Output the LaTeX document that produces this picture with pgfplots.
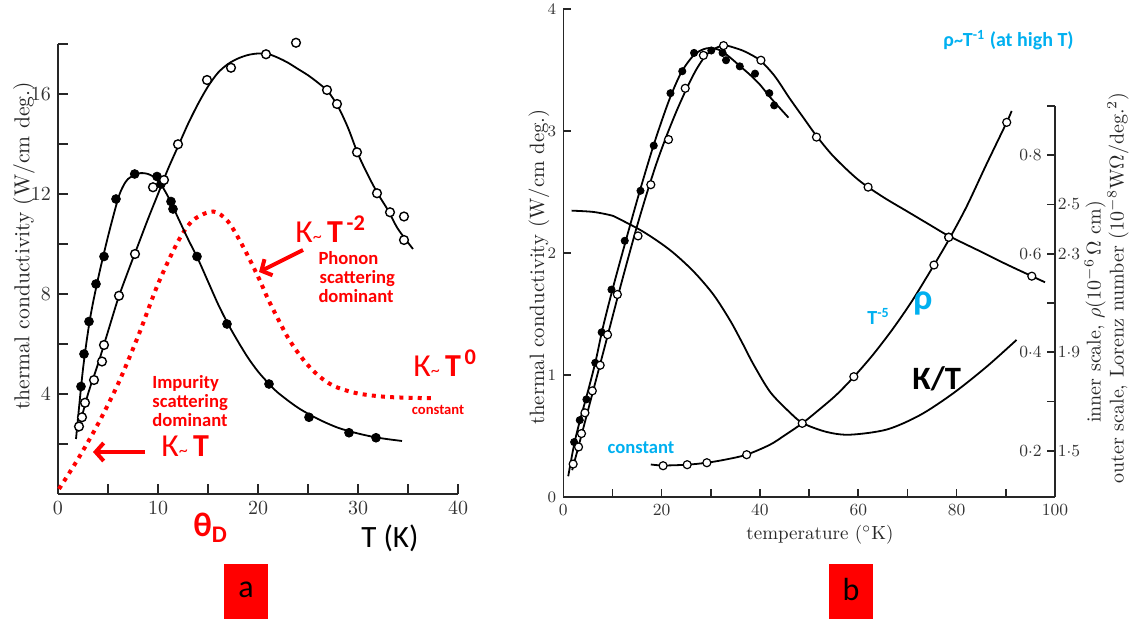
\documentclass[border=0pt]{standalone}
\usepackage{fontspec}
\usepackage{pgfplots}
\pgfplotsset{compat=1.18}
\usetikzlibrary{arrows.meta}
\newfontfamily\cb{Carlito}
\definecolor{ared}{RGB}{255,0,0}
\definecolor{ablue}{RGB}{0,176,240}
\newcommand{\fs}[1]{\fontsize{#1}{#1}\selectfont}
\newcommand{\tld}{{\fs{9}\textasciitilde}}
\begin{document}
\begin{tikzpicture}
\path[use as bounding box] (0,0) rectangle (565pt,-309.5pt);
% ---------------- panel a ----------------
\begin{axis}[
  at={(29pt,-247pt)}, anchor=south west, scale only axis,
  width=200pt, height=225pt,
  xmin=0, xmax=40, ymin=0, ymax=18,
  axis x line*=bottom, axis y line*=left,
  axis line style={line width=0.8pt, black!85, -},
  xtick={0,5,...,40}, xticklabels={0,,10,,20,,30,,40},
  ytick={2,4,...,18}, yticklabels={,4,,8,,12,,16,},
  tick align=inside, major tick length=5pt,
  tick style={line width=0.8pt, black!85},
  ticklabel style={font=\fs{10}, black!80},
  clip=false,
]
\addplot[ared, line width=2pt, dash pattern=on 2pt off 2.6pt, smooth] coordinates {
(0.1,0.2)(2,1.4)(4,2.8)(6,4.4)(8,6.3)(10,8.4)(12,10.1)(13.5,10.95)(15.5,11.3)(17,10.9)(18.5,9.9)(20,8.7)(21,7.8)(22,7.0)(23,6.25)(24,5.65)(25,5.15)(26,4.75)(27,4.45)(28,4.25)(30,4.02)(33,3.88)(37.4,3.83)};
\addplot[black, line width=0.9pt, smooth] coordinates {
(1.8,2.2)(2.5,5.0)(3.2,7.0)(4.0,8.6)(5.0,10.3)(6.0,11.8)(6.5,12.3)(7.0,12.6)(8.0,12.82)(9.0,12.8)(10,12.55)(11,11.9)(12,11.05)(13,10.2)(14,9.4)(15,8.5)(16,7.6)(17,6.8)(18,6.1)(19,5.45)(20,4.9)(21,4.45)(22,4.05)(24,3.45)(26,3.0)(28,2.65)(30,2.42)(32,2.25)(34.4,2.12)};
\addplot[black, line width=0.9pt, smooth] coordinates {
(2.0,2.5)(3.0,4.0)(4.0,5.2)(5.0,6.5)(6.0,7.8)(7.0,8.9)(8.0,9.95)(9.0,11.0)(10,12.0)(11,13.0)(12,13.9)(13,14.8)(14,15.6)(15,16.3)(16,16.85)(17,17.2)(18,17.42)(19,17.56)(20,17.62)(21,17.6)(22,17.45)(23,17.25)(24,17.0)(25,16.75)(26,16.45)(27,16.1)(28,15.5)(29,14.65)(30,13.6)(31,12.75)(32,12.0)(33,11.35)(34,10.6)(35.5,9.8)};
\addplot[only marks, mark=*, mark size=2.2pt, black] coordinates {
(7.67,12.8)(5.8,11.8)(4.6,9.5)(3.8,8.4)(3.1,6.9)(2.6,5.6)(2.3,4.3)(9.9,12.7)(10.3,12.4)(11.3,11.7)(11.5,11.4)(13.9,9.5)(16.9,6.8)(21.1,4.4)(25.1,3.07)(29.1,2.45)(31.8,2.25)};
\addplot[only marks, mark=*, mark size=2.2pt, mark options={fill=white, draw=black, line width=0.7pt}] coordinates {
(2.1,2.7)(2.4,3.07)(2.7,3.65)(3.6,4.56)(4.4,5.3)(4.6,5.96)(6.1,7.93)(7.7,9.6)(9.5,12.27)(10.6,12.56)(12.0,13.99)(14.9,16.56)(17.3,17.05)(20.8,17.59)(23.8,18.05)(26.9,16.16)(27.9,15.6)(29.9,13.67)(31.9,12.03)(33.2,11.27)(34.6,11.1)(34.6,10.16)};
\end{axis}
% ---------------- panel b, left scale ----------------
\begin{axis}[
  at={(281.65pt,-248.5pt)}, anchor=south west, scale only axis,
  width=245.8pt, height=244pt,
  xmin=0, xmax=100, ymin=0, ymax=4,
  axis x line*=bottom, axis y line*=left,
  axis line style={line width=0.8pt, black!85, -},
  xtick={0,10,...,100}, xticklabels={0,,20,,40,,60,,80,,100},
  ytick={0,1,2,3,4},
  tick align=inside, major tick length=4pt,
  tick style={line width=0.8pt, black!85},
  ticklabel style={font=\fs{8.5}, black!80},
  clip=false,
]
\addplot[black, line width=0.9pt, smooth] coordinates {
(1.0,0.17)(2.2,0.43)(3.4,0.63)(4.7,0.82)(6.5,1.10)(8,1.38)(10,1.70)(12.5,2.07)(15.5,2.50)(18.5,2.90)(21.5,3.25)(24,3.48)(26.5,3.62)(28.5,3.67)(30,3.68)(32,3.66)(34,3.60)(36,3.53)(38,3.46)(40,3.38)(42,3.28)(44,3.19)(45.8,3.11)};
\addplot[black, line width=0.9pt, smooth] coordinates {
(1.8,0.22)(3,0.40)(4.5,0.63)(6,0.86)(7.5,1.09)(9,1.32)(11,1.63)(13,1.93)(15,2.22)(17,2.49)(19,2.74)(21,2.96)(23,3.16)(25,3.34)(27,3.50)(29,3.62)(31,3.68)(33,3.70)(35,3.68)(37,3.65)(40,3.58)(43,3.45)(46,3.27)(49,3.10)(51.5,2.96)(55,2.79)(60,2.60)(65,2.46)(70,2.34)(75,2.22)(78.4,2.14)(85,2.01)(90,1.91)(95.3,1.81)(98,1.76)};
\addplot[only marks, mark=*, mark size=1.8pt, black] coordinates {
(9.8,1.70)(12.5,2.10)(15.7,2.51)(18.4,2.88)(21.8,3.31)(24.2,3.49)(26.6,3.64)(30.1,3.66)(32.4,3.64)(33.1,3.58)(35.9,3.53)(39.0,3.47)(41.9,3.31)(42.9,3.21)(7.8,1.35)(6.5,1.10)(4.7,0.80)(3.35,0.63)(2.2,0.45)};
\addplot[only marks, mark=*, mark size=2pt, mark options={fill=white, draw=black, line width=0.6pt}] coordinates {
(11.0,1.66)(15.2,2.14)(17.8,2.56)(21.4,2.93)(24.8,3.35)(28.5,3.62)(32.6,3.70)(40.2,3.58)(51.5,2.95)(62.0,2.54)(78.4,2.13)(95.3,1.81)(9.0,1.33)(7.5,1.08)(5.9,0.87)(4.4,0.69)(3.7,0.52)(3.1,0.41)(2.0,0.27)};
\end{axis}
% ---------------- panel b, right scale (rho; Lorenz number) ----------------
\begin{axis}[
  at={(281.65pt,-248.5pt)}, anchor=south west, scale only axis,
  width=245.8pt, height=244pt,
  xmin=0, xmax=100, ymin=0.106, ymax=1.097,
  axis x line=none, axis y line*=right,
  axis line style={draw=none},
  ytick={0.2,0.3,0.4,0.5,0.6,0.7,0.8,0.9},
  yticklabels={1$\cdot$5,,1$\cdot$9,,2$\cdot$3,2$\cdot$5,,},
  tick align=inside, major tick length=4pt,
  tick style={line width=0.8pt, black!85},
  ticklabel style={font=\fs{8.5}, black!80},
  yticklabel style={xshift=-2pt},
  clip=false,
]
\draw[line width=0.8pt, black!85] (axis cs:100,0.106) -- (axis cs:100,0.9);
\node[anchor=east, font=\fs{8.5}, black!80, inner sep=0pt, xshift=-6.5pt] at (axis cs:100,0.2) {0$\cdot$2};
\node[anchor=east, font=\fs{8.5}, black!80, inner sep=0pt, xshift=-6.5pt] at (axis cs:100,0.4) {0$\cdot$4};
\node[anchor=east, font=\fs{8.5}, black!80, inner sep=0pt, xshift=-6.5pt] at (axis cs:100,0.6) {0$\cdot$6};
\node[anchor=east, font=\fs{8.5}, black!80, inner sep=0pt, xshift=-6.5pt] at (axis cs:100,0.8) {0$\cdot$8};
\addplot[black, line width=0.9pt, smooth] coordinates {
(17.8,0.172)(20.3,0.170)(25.2,0.1716)(29.2,0.1756)(33,0.182)(37.3,0.192)(42,0.212)(45,0.231)(48.6,0.2556)(52,0.283)(55.5,0.313)(59.1,0.350)(63,0.395)(67,0.447)(71,0.505)(75.4,0.577)(78.4,0.628)(82,0.695)(86,0.78)(90.2,0.867)(91.2,0.890)};
\addplot[black, line width=0.9pt, smooth] table[x=T, y expr=(\thisrow{L}-1.1)/2] {
T L
1.7 2.475
6.0 2.470
9.5 2.457
10.9 2.446
16.3 2.389
21.7 2.315
26.4 2.230
30.5 2.135
33.9 2.030
36.3 1.942
38.7 1.850
42.1 1.738
46.1 1.655
48.8 1.611
53.6 1.576
58.3 1.565
65.8 1.586
72.6 1.645
79.3 1.733
86.1 1.841
92.2 1.950
};
\addplot[only marks, mark=*, mark size=2pt, mark options={fill=white, draw=black, line width=0.6pt}] coordinates {
(20.3,0.1695)(25.2,0.1716)(29.2,0.1756)(37.3,0.1919)(48.6,0.2556)(59.1,0.3503)(75.4,0.5771)(78.4,0.6333)(90.2,0.8668)};
\end{axis}
% ---------------- annotations (pixel coordinates) ----------------
\begin{scope}[x=0.5pt, y=-0.5pt]
\node[rotate=90, font=\fs{10.8}, black!85] at (24,246) {thermal conductivity (W/cm deg.)};
\node[rotate=90, font=\fs{10.4}, black!85] at (539,267) {thermal conductivity (W/cm deg.)};
\node[rotate=90, font=\fs{10}, black!85] at (1095,312) {inner scale, $\rho$(10$^{-6}\,\Omega$ cm)};
\node[rotate=90, font=\fs{10}, black!85] at (1118,288) {outer scale, Lorenz number (10$^{-8}$W$\Omega$/deg.$^2$)};
\node[font=\fs{9.5}, black!85] at (820,535) {temperature ($^\circ$K)};
% panel a notes
\node[anchor=base west, inner sep=0pt, ared, font=\cb\fs{16}] at (295,243) {К\tld\,\textbf{T}\textsuperscript{\,\textbf{-2}}};
\draw[ared, line width=2pt, -{Straight Barb[length=4pt, width=9pt]}] (303,250) -- (259,272);
\node[anchor=west, align=left, inner sep=0pt, ared, font=\cb\bfseries\fs{9.3}] at (315,277) {\,Phonon\\ \ scattering\\\,dominant};
\node[anchor=base west, inner sep=0pt, ared, font=\cb\fs{16}] at (413,377) {К\tld\,\textbf{T}\textsuperscript{\,\textbf{0}}};
\node[inner sep=0pt, ared, font=\cb\bfseries\fs{7.3}] at (438,410) {constant};
\node[anchor=west, align=left, inner sep=0pt, ared, font=\cb\bfseries\fs{9.3}] at (152,401) {Impurity\\scattering\\dominant};
\node[anchor=base west, inner sep=0pt, ared, font=\cb\fs{16}] at (161,457) {К\tld\,\textbf{T}};
\draw[ared, line width=2pt, -{Straight Barb[length=4pt, width=9pt]}] (145,452) -- (93,452);
\node[anchor=base west, inner sep=0pt, ared, font=\cb\bfseries\fs{17}] at (193,537) {θ\textsubscript{D}};
\node[anchor=base west, inner sep=0pt, black, font=\cb\fs{15.5}] at (361,548) {T (K)};
\fill[ared] (224,564) rectangle (268,619);
\node[font=\cb\fs{16}] at (246,590) {a};
% panel b notes
\node[anchor=base west, inner sep=0pt, ablue, font=\cb\bfseries\fs{10}] at (943,47) {ρ\tld T\textsuperscript{-1} (at high T)};
\node[anchor=base west, inner sep=0pt, ablue, font=\cb\bfseries\fs{10}] at (867,325) {T\textsuperscript{-5}};
\node[anchor=base west, inner sep=0pt, ablue, font=\cb\bfseries\fs{18}] at (913,310) {ρ};
\node[anchor=base west, inner sep=0pt, black, font=\cb\bfseries\fs{16.3}] at (912,390) {К/T};
\node[inner sep=0pt, ablue, font=\cb\bfseries\fs{9.3}] at (641,448) {constant};
\fill[ared] (829,564) rectangle (873,619);
\node[font=\cb\fs{16}] at (851,590) {b};
\end{scope}
\end{tikzpicture}
\end{document}
